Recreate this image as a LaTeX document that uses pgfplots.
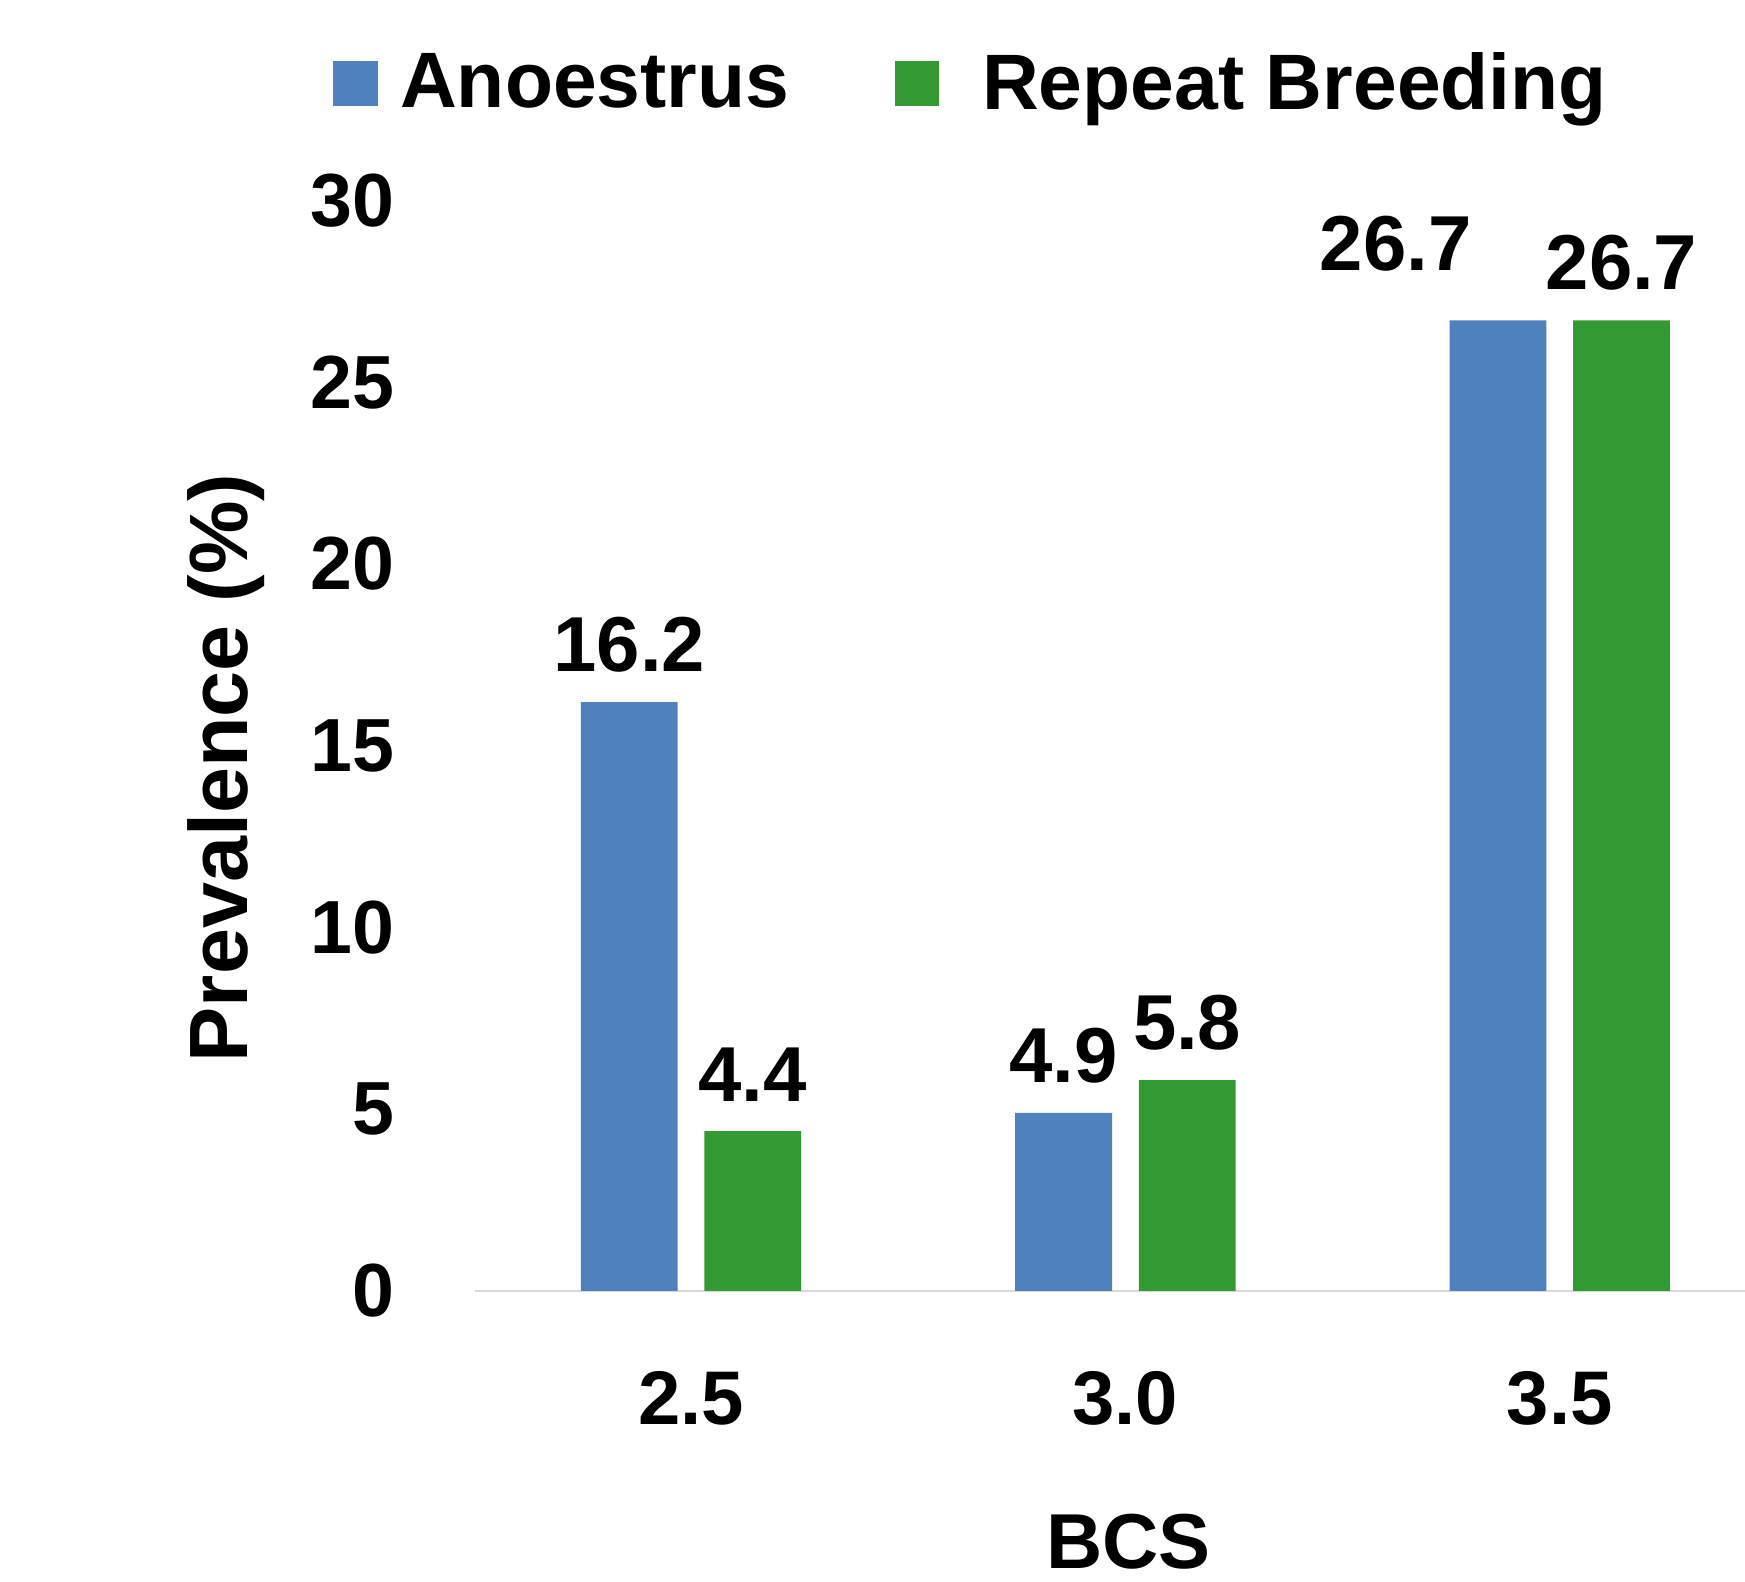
\documentclass[border=0pt]{standalone}
\usepackage{fontspec}
\setmainfont{Liberation Sans}
\usepackage{pgfplots}
\pgfplotsset{compat=1.18}
\usepackage{pgfplotstable}
\definecolor{blueC}{HTML}{4F81BD}
\definecolor{greenC}{HTML}{339933}
\definecolor{axisC}{HTML}{D9D9D9}
\pgfplotstableread{
x y dx dy
0 16.2 0 0
1 4.9 0 0
2 26.7 -27.6 5.1
}\anoes
\pgfplotstableread{
x y dx dy
0 4.4 0 0
1 5.8 0 0
2 26.7 0 0
}\repeatb
\begin{document}
\begin{tikzpicture}
\begin{axis}[
  scale only axis,
  width=342.3pt, height=294pt,
  ymin=0, ymax=30,
  xmin=-0.497, xmax=2.4266,
  ybar=7.2pt, bar width=26.1pt,
  axis y line*=left,
  axis x line*=bottom,
  y axis line style={draw=none},
  x axis line style={draw=axisC, line width=0.6pt, -},
  xtick={0,1,2}, xticklabels={2.5,3.0,3.5},
  ytick={0,5,...,30},
  major tick length=0pt,
  tick style={draw=none},
  font=\bfseries,
  yticklabel style={font=\fontsize{20.3}{20.3}\selectfont\bfseries, inner sep=0pt, anchor=east, xshift=-21.6pt},
  xticklabel style={font=\fontsize{20.5}{20.5}\selectfont\bfseries, inner sep=0pt, anchor=north, yshift=-21.5pt},
  /pgf/number format/assume math mode=true,
  xlabel={BCS},
  xlabel style={font=\fontsize{21}{21}\selectfont\bfseries, at={(rel axis cs:0.5145,0)}, anchor=north, inner sep=0pt, yshift=-60pt},
  ylabel={Prevalence (\%)},
  ylabel style={font=\fontsize{22.3}{22.3}\selectfont\bfseries, at={(rel axis cs:0,0.4796)}, anchor=base, inner sep=0pt, yshift=61.5pt},
  nodes near coords,
  nodes near coords style={font=\fontsize{21}{21}\selectfont\bfseries, inner sep=0pt, anchor=south, /pgf/number format/fixed, /pgf/number format/fixed zerofill, /pgf/number format/precision=1, /pgf/number format/assume math mode=true},
  visualization depends on={\thisrow{dx} \as \dx},
  visualization depends on={\thisrow{dy} \as \dy},
  every node near coord/.append style={xshift=\dx pt, yshift=7.8pt+\dy pt},
  legend columns=2,
  legend style={draw=none, fill=none, font=\fontsize{21.2}{21.2}\selectfont\bfseries,
    at={(rel axis cs:-0.121,1.107)}, anchor=west,
    nodes={inner sep=0pt},
    column sep=6pt,
    /tikz/every even column/.append style={column sep=28.5pt}},
  legend image code/.code={\fill[#1,draw=none] (0pt,-6pt) rectangle (12pt,6pt);},
]
\addplot[fill=blueC, draw=none] table[x=x,y=y] {\anoes};
\addplot[fill=greenC, draw=none] table[x=x,y=y] {\repeatb};
\legend{Anoestrus,\hspace{5.5pt}Repeat Breeding}
\coordinate (bl) at (rel axis cs:0,0);
\coordinate (tr) at (rel axis cs:1,1);
\end{axis}
\pgfresetboundingbox
\path[use as bounding box] ([xshift=-128.1pt,yshift=-78.3pt]bl) rectangle ([yshift=54pt]tr);
\end{tikzpicture}
\end{document}
